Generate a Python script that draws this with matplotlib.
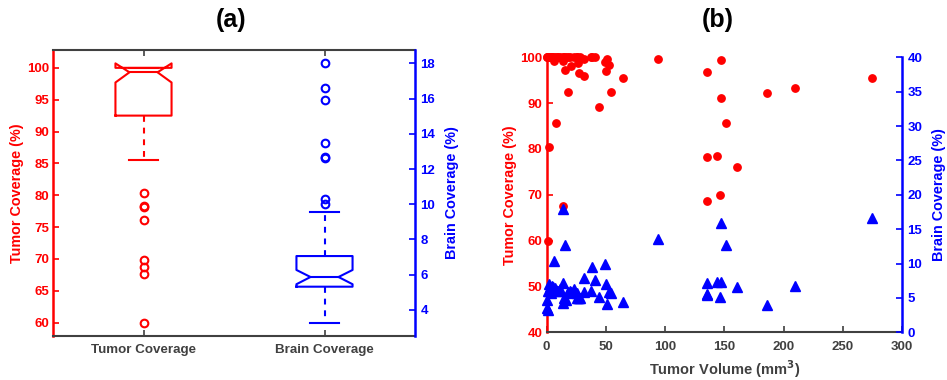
import numpy as np
import matplotlib
matplotlib.use("Agg")
import matplotlib.pyplot as plt

plt.rcParams['font.family'] = ['Liberation Sans', 'DejaVu Sans']
plt.rcParams['font.weight'] = 'bold'
plt.rcParams['axes.labelweight'] = 'bold'

RED = '#ff0000'
BLUE = '#0000ff'
GRAY = '#404040'

# ---- panel (a): box plot summaries ----
box_labels = ['Tumor Coverage', 'Brain Coverage']
tumor_box = dict(q1=92.5, med=99.3, q3=100.0, cilo=97.7, cihi=100.7,
                 whislo=85.5, whishi=100.0)
tumor_outliers = [80.4, 78.3, 78.2, 76.1, 69.9, 68.7, 67.6, 59.9]
brain_box = dict(q1=5.32, med=5.87, q3=7.06, cilo=5.46, cihi=6.27,
                 whislo=3.27, whishi=9.55)
brain_outliers = [18.0, 16.6, 15.9, 13.5, 12.7, 12.6, 10.3, 10.0]

# ---- panel (b): per patient volume (mm3), tumor and brain coverage (%) ----
volume = [0.2, 0.5, 1.0, 1.5, 2.0, 2.4, 3.0, 3.5, 4.2, 5.0,
          5.8, 6.3, 7.0, 7.8, 8.6, 9.5, 11.0, 13.6, 13.7, 14.0,
          14.8, 15.6, 16.5, 17.9, 18.1, 19.8, 20.4, 23.5, 25.5, 26.0,
          26.9, 27.4, 28.3, 31.9, 32.0, 37.6, 38.1, 40.9, 44.6, 49.4,
          50.2, 50.8, 53.0, 54.4, 64.3,
          94.3, 135.2, 135.4, 135.6, 143.9, 146.7, 147.3, 147.5, 151.5,
          160.5, 186.3, 209.4, 274.9]
tumor_cov = [100, 100, 100, 60.0, 100, 80.4, 100, 100, 100, 100,
             100, 99.2, 100, 85.6, 100, 100, 100, 99.2, 100, 67.6,
             100, 97.2, 100, 100, 92.5, 100, 98.2, 100, 100, 100,
             98.7, 96.6, 100, 99.7, 95.9, 100, 100, 100, 89.2, 99.0,
             97.0, 99.7, 98.3, 92.5, 95.5,
             99.6, 78.3, 96.7, 68.7, 78.4, 70.0, 91.2, 99.4, 85.6,
             76.1, 92.3, 93.2, 95.5]
brain_cov = [4.75, 3.5, 3.3, 5.95, 6.0, 7.0, 6.6, 5.7, 6.3, 6.8,
             6.65, 10.3, 6.5, 6.1, 5.95, 6.0, 6.3, 7.15, 4.3, 18.0,
             4.95, 12.7, 4.7, 5.65, 5.9, 5.95, 5.9, 6.25, 5.7, 4.95,
             5.0, 4.95, 5.0, 7.85, 5.85, 5.95, 9.55, 7.55, 5.2, 10.0,
             7.0, 4.1, 5.85, 5.65, 4.35,
             13.5, 7.2, 5.4, 5.5, 7.35, 5.15, 7.35, 15.9, 12.7,
             6.55, 3.95, 6.8, 16.6]


def box_style(color):
    return dict(
        boxprops=dict(color=color, lw=1.5),
        medianprops=dict(color=color, lw=1.5),
        whiskerprops=dict(color=color, lw=1.5, linestyle=(0, (2.8, 2.8))),
        capprops=dict(color=color, lw=1.5),
        flierprops=dict(marker='o', mfc='none', mec=color, mew=1.5, ms=5.5,
                        linestyle='none'),
    )


fig = plt.figure(figsize=(9.47, 3.8), dpi=100)

# ---------------- (a) ----------------
ax1 = fig.add_axes([53 / 947, 44 / 380, 362 / 947, 286 / 380])
ax2 = ax1.twinx()

ax1.bxp([dict(tumor_box, fliers=tumor_outliers)], positions=[1], widths=0.31,
        shownotches=True, manage_ticks=False, **box_style(RED))
ax2.bxp([dict(brain_box, fliers=brain_outliers)], positions=[2], widths=0.31,
        shownotches=True, manage_ticks=False, **box_style(BLUE))

ax1.set_xlim(0.5, 2.5)
ax1.set_xticks([1, 2])
ax1.set_xticklabels(box_labels, fontsize=9.6, color=GRAY)
ax1.set_ylim(57.9, 102.8)
ax1.set_yticks(np.arange(60, 101, 5))
ax2.set_ylim(2.52, 18.76)
ax2.set_yticks(np.arange(4, 19, 2))

ax1.set_ylabel('Tumor Coverage (%)', color=RED, fontsize=10.4, labelpad=2)
ax2.set_ylabel('Brain Coverage (%)', color=BLUE, fontsize=10.4, labelpad=7)

ax1.tick_params(axis='x', direction='in', length=4, width=1.2, color=GRAY,
                top=True, pad=6)
ax1.tick_params(axis='y', direction='in', length=4, width=1.2, color=RED,
                labelcolor=RED, labelsize=9.5, pad=3)
ax2.tick_params(axis='y', direction='in', length=4, width=1.2, color=BLUE,
                labelcolor=BLUE, labelsize=9.5, pad=4)

for s in ['top', 'bottom']:
    ax1.spines[s].set_color(GRAY)
    ax1.spines[s].set_linewidth(1.5)
ax1.spines['left'].set_color(RED)
ax1.spines['left'].set_linewidth(1.8)
ax1.spines['right'].set_visible(False)
for s in ['top', 'bottom', 'left']:
    ax2.spines[s].set_visible(False)
ax2.spines['right'].set_color(BLUE)
ax2.spines['right'].set_linewidth(1.8)

fig.text(231 / 947, 1 - 20 / 380, '(a)', ha='center', va='center',
         fontsize=18, fontweight='bold')

# ---------------- (b) ----------------
ax3 = fig.add_axes([546.5 / 947, 47.7 / 380, 355.5 / 947, 275 / 380])
ax4 = ax3.twinx()

ax3.plot(volume, tumor_cov, 'o', color=RED, ms=5.3, clip_on=False, zorder=3)
ax4.plot(volume, brain_cov, '^', color=BLUE, ms=6.5, clip_on=False, zorder=3)

ax3.set_xlim(0, 300)
ax3.set_xticks(np.arange(0, 301, 50))
ax3.set_ylim(40, 100)
ax3.set_yticks(np.arange(40, 101, 10))
ax4.set_ylim(0, 40)
ax4.set_yticks(np.arange(0, 41, 5))

ax3.set_xlabel('Tumor Volume (mm$^\\mathbf{3}$)', color=GRAY, fontsize=10.5,
               labelpad=4)
ax3.set_ylabel('Tumor Coverage (%)', color=RED, fontsize=10.4, labelpad=2)
ax4.set_ylabel('Brain Coverage (%)', color=BLUE, fontsize=10.4, labelpad=7)

ax3.tick_params(axis='x', direction='in', length=4, width=1.2, color=GRAY,
                labelcolor=GRAY, labelsize=9.5, pad=6)
ax3.tick_params(axis='y', direction='in', length=4, width=1.2, color=RED,
                labelcolor=RED, labelsize=9.5, pad=3)
ax4.tick_params(axis='y', direction='in', length=4, width=1.2, color=BLUE,
                labelcolor=BLUE, labelsize=9.5, pad=4)

ax3.spines['top'].set_visible(False)
ax3.spines['right'].set_visible(False)
ax3.spines['bottom'].set_color(GRAY)
ax3.spines['bottom'].set_linewidth(1.5)
ax3.spines['left'].set_color(RED)
ax3.spines['left'].set_linewidth(1.8)
for s in ['top', 'bottom', 'left']:
    ax4.spines[s].set_visible(False)
ax4.spines['right'].set_color(BLUE)
ax4.spines['right'].set_linewidth(1.8)

fig.text(718 / 947, 1 - 20 / 380, '(b)', ha='center', va='center',
         fontsize=18, fontweight='bold')

fig.savefig('out.png', dpi=100)
